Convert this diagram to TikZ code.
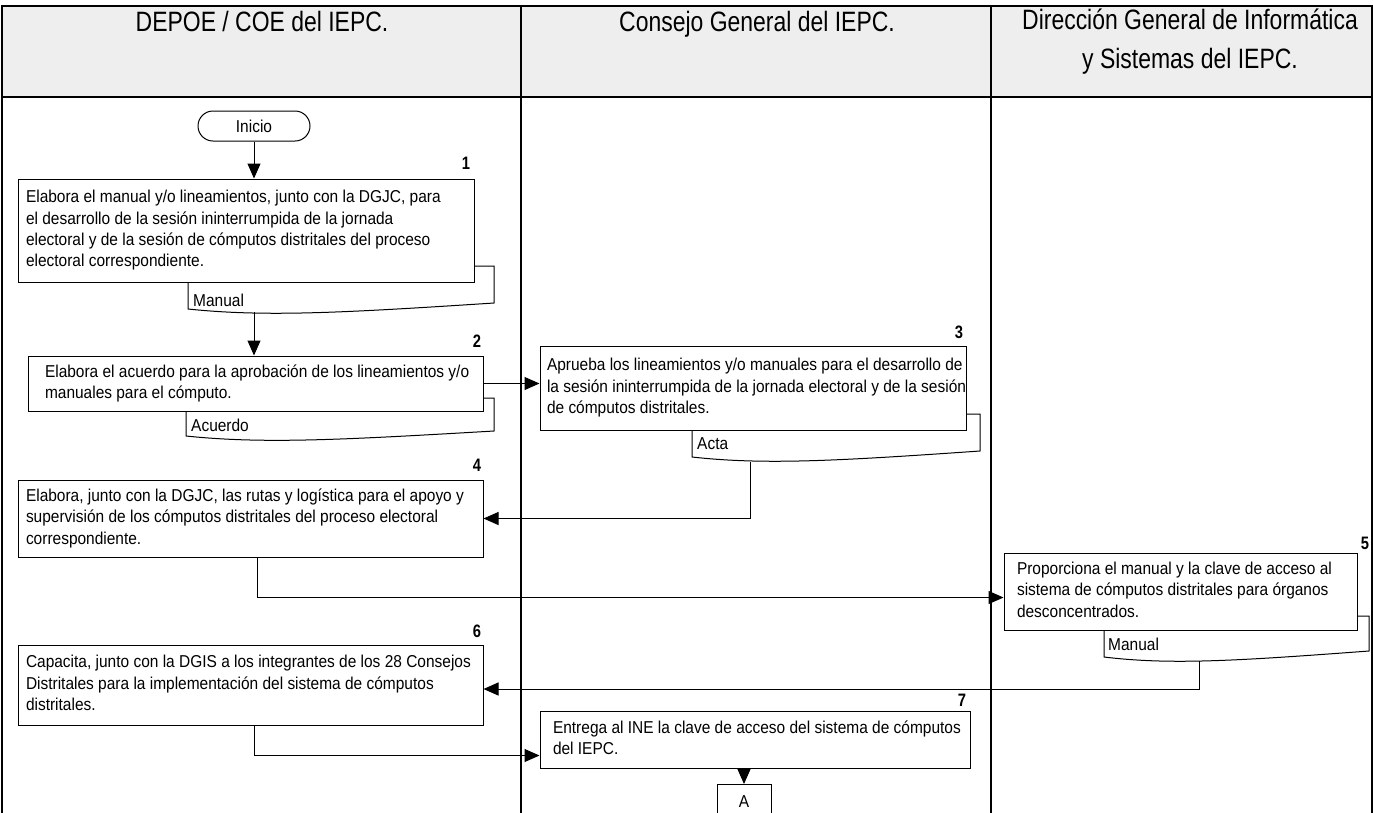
\documentclass[tikz,border=0pt]{standalone}
\usepackage{fontspec}
\setmainfont{Liberation Sans}
\newfontfamily\hdrfont[FakeStretch=0.82]{Liberation Sans}
\newfontfamily\bodyfont[FakeStretch=0.9]{Liberation Sans}
\usetikzlibrary{arrows.meta,calc}
\definecolor{hdrgray}{HTML}{EEEEEE}
\newcommand{\bt}[2]{\makebox[#1pt][l]{\begin{tabular}{@{}l@{}}#2\end{tabular}}}
\begin{document}
\begin{tikzpicture}[x=1pt,y=-1pt,
  every node/.style={font=\bodyfont\fontsize{17.2}{21.3}\selectfont, inner sep=0pt},
  proc/.style={draw, line width=1pt, fill=white, inner ysep=4pt},
  docst/.style={draw, line width=1pt, fill=white},
  num/.style={font=\hdrfont\fontsize{18}{20}\selectfont\bfseries},
  hdr/.style={font=\hdrfont\fontsize{28}{39}\selectfont, align=center},
  arr/.style={line width=1pt, -{Triangle[length=15pt,width=13pt]}},
  frame/.style={line width=1.3pt},
  termst/.style={draw, line width=1pt, rounded corners=15pt, minimum width=112, minimum height=30},
]
\useasboundingbox (0,0) rectangle (1373,812);
% frame and lanes
\fill[hdrgray] (2,6) rectangle (1372,97);
\draw[frame] (2,830) -- (2,6) -- (1372,6) -- (1372,830);
\draw[frame] (2,97) -- (1372,97);
\draw[frame] (521,6) -- (521,830);
\draw[frame] (991,6) -- (991,830);
\node[hdr, anchor=base] (h1) at (262,31) {DEPOE / COE del IEPC.};
\node[hdr, anchor=base] (h2) at (757,31) {Consejo General del IEPC.};
\node[hdr] (h3) at (1190,42) {Dirección General de Informática\\y Sistemas del IEPC.};

% documents (behind boxes)
\draw[docst] (188,266) -- (188,309) .. controls (265,317) and (340,313) .. (494,303) -- (494,266) -- cycle;
\draw[docst] (186,398) -- (186,436) .. controls (263,444) and (340,440) .. (494,431) -- (494,398) -- cycle;
\draw[docst] (692,414) -- (692,457) .. controls (764,465) and (836,461) .. (980,451) -- (980,414) -- cycle;
\draw[docst] (1104,616) -- (1104,657) .. controls (1170,665) and (1235,661) .. (1369,651) -- (1369,616) -- cycle;
\node[anchor=west] (d1) at (193,300) {Manual};
\node[anchor=west] (d2) at (191,425) {Acuerdo};
\node[anchor=west] (d3) at (697,444) {Acta};
\node[anchor=west] (d5) at (1108,644) {Manual};
\coordinate (c1) at (254,312);
\coordinate (c3) at (750,462);
\coordinate (c5) at (1199,661);

% start
\node[termst] (ini) at (254,126) {Inicio};

% process boxes
\node[proc, minimum width=456, minimum height=103, inner xsep=8pt] (b1) at (246,230.5)
  {\bt{440}{Elabora el manual y/o lineamientos, junto con la DGJC, para\\el desarrollo de la sesión ininterrumpida de la jornada\\electoral y de la sesión de cómputos distritales del proceso\\electoral correspondiente.}};
\node[proc, minimum width=455, minimum height=55, inner xsep=17pt] (b2) at (255.5,383.5)
  {\bt{421}{Elabora el acuerdo para la aprobación de los lineamientos y/o\\manuales para el cómputo.}};
\node[proc, minimum width=426, minimum height=84, inner xsep=7pt] (b3) at (753,388)
  {\bt{412}{Aprueba los lineamientos y/o manuales para el desarrollo de\\la sesión ininterrumpida de la jornada electoral y de la sesión\\de cómputos distritales.}};
\node[proc, minimum width=465, minimum height=77, inner xsep=8pt] (b4) at (250.5,518.5)
  {\bt{449}{Elabora, junto con la DGJC, las rutas y logística para el apoyo y\\supervisión de los cómputos distritales del proceso electoral\\correspondiente.}};
\node[proc, minimum width=353, minimum height=77, inner xsep=13pt] (b5) at (1180.5,591.5)
  {\bt{327}{Proporciona el manual y la clave de acceso al\\sistema de cómputos distritales para órganos\\desconcentrados.}};
\node[proc, minimum width=465, minimum height=80, inner xsep=8pt] (b6) at (250.5,685)
  {\bt{449}{Capacita, junto con la DGIS a los integrantes de los 28 Consejos\\Distritales para la implementación del sistema de cómputos\\distritales.}};
\node[proc, minimum width=430, minimum height=57, inner xsep=13pt] (b7) at (755,739.5)
  {\bt{404}{Entrega al INE la clave de acceso del sistema de cómputos\\del IEPC.}};
\node[draw, line width=1pt, minimum width=54, minimum height=60, anchor=north] (A) at (744,784) {};
\node (At) at (744,802) {A};

% numbers
\node[num] (n1) at (466,163) {1};
\node[num] (n2) at (477,341) {2};
\node[num] (n3) at (959,332) {3};
\node[num] (n4) at (477,465) {4};
\node[num] (n5) at (1365,543) {5};
\node[num] (n6) at (477,631) {6};
\node[num] (n7) at (962,700) {7};

% connectors
\draw[arr] (ini.south) -- (ini.south |- b1.north);
\draw[arr] (c1) -- (c1 |- b2.north);
\draw[arr] (b2.east) -- (b2.east -| b3.west);
\draw[arr] (c3) |- (b4.east);
\draw[arr] ($(b4.south west)+(240,0)$) |- ($(b5.west)+(0,6)$);
\draw[arr] (c5) |- ($(b6.east)+(0,4)$);
\draw[arr] ($(b6.south west)+(237,0)$) |- ($(b7.west)+(0,16)$);
\draw[arr] (b7.south -| A.north) -- (A.north);
\end{tikzpicture}
\end{document}
